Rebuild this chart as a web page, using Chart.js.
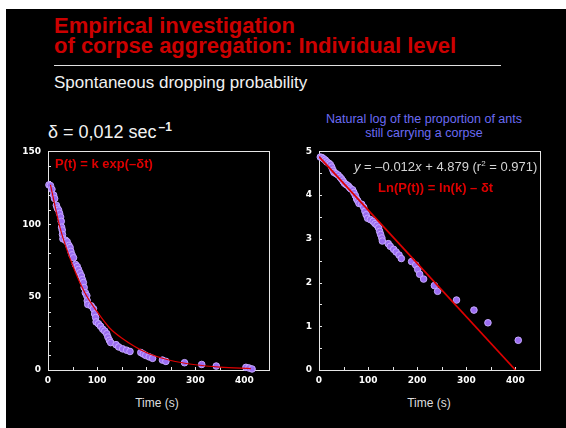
<!DOCTYPE html>
<html>
<head>
<meta charset="utf-8">
<script src="https://cdn.jsdelivr.net/npm/chart.js@4/dist/chart.umd.min.js"></script>
<style>
  html, body { margin: 0; padding: 0; }
  body { width: 566px; height: 428px; background: #fff; position: relative; overflow: hidden; font-family: "Liberation Sans", Arial, sans-serif; }
  #panel { position: absolute; left: 6px; top: 9px; right: 0; bottom: 0; background: #000; }
  .txt { position: absolute; white-space: nowrap; }
  #title { left: 54px; top: 16px; font-size: 22px; line-height: 20px; font-weight: bold; color: #cc0000; }
  #rule { position: absolute; left: 54px; top: 65px; width: 447px; height: 1px; background: #e0e0e0; }
  #subtitle { left: 54px; top: 74px; font-size: 17px; line-height: 17px; color: #f2f2f2; }
  #delta { left: 48px; top: 118px; font-size: 18px; line-height: 18px; color: #f2f2f2; }
  #delta sup { font-size: 12px; font-weight: bold; vertical-align: 7px; margin-left: 2px; }
  #logTitle { left: 324px; top: 112px; width: 200px; text-align: center; font-size: 12.5px; line-height: 14px; color: #6b6bf4; }
  #eqLeft { left: 55px; top: 157px; font-size: 13px; line-height: 13px; font-weight: bold; color: #dd0000; }
  #eqFit { left: 354px; top: 157px; font-size: 13px; line-height: 13px; color: #d4d4d4; }
  #eqFit sup { font-size: 8px; vertical-align: 5px; }
  #eqLn { left: 378px; top: 181px; font-size: 13px; line-height: 13px; font-weight: bold; color: #dd0000; }
  .xlab { top: 397px; width: 80px; text-align: center; font-size: 12px; line-height: 12px; color: #dedede; }
  canvas { position: absolute; }
</style>
</head>
<body>
<div id="panel"></div>
<div class="txt" id="title">Empirical investigation<br>of corpse aggregation: Individual level</div>
<div id="rule"></div>
<div class="txt" id="subtitle">Spontaneous dropping probability</div>
<div class="txt" id="delta">δ = 0,012 sec<sup>–1</sup></div>
<div class="txt" id="logTitle">Natural log of the proportion of ants<br>still carrying a corpse</div>

<canvas id="leftChart" width="270" height="250" style="left:10px; top:139px;"></canvas>
<canvas id="rightChart" width="270" height="250" style="left:285px; top:139px;"></canvas>

<div class="txt" id="eqLeft">P(t) = k exp(–δt)</div>
<div class="txt" id="eqFit"><i>y</i> = –0.012<i>x</i> + 4.879 (r<sup>2</sup> = 0.971)</div>
<div class="txt" id="eqLn">Ln(P(t)) = ln(k) – δt</div>
<div class="txt xlab" style="left:117px;">Time (s)</div>
<div class="txt xlab" style="left:389px;">Time (s)</div>

<script>
// ants still carrying a corpse vs time (s)
const carryTimes = [2, 5, 8, 11.5, 13.5, 17, 19, 21.6, 23.6, 25.7, 27, 27.7, 29, 29.5, 30.4, 35.8, 39, 42.6, 45, 46.6,
  49, 52, 56, 59.5, 62, 65, 68, 70, 72, 73.6, 76, 79, 80, 81, 88, 92.6, 95, 97, 98, 102.7,
  107, 111.5, 115.5, 119.6, 122, 125, 127.7, 138.5, 144, 152, 160, 167, 189, 194, 199, 206, 213, 233, 240, 278,
  313, 342.6, 403, 409, 415.5];
const carryCounts = [127, 126.5, 124, 120, 117.6, 113, 111, 109.7, 107.5, 105, 102, 98, 96, 93, 90, 89, 88, 85.5, 84, 81.4,
  79, 77, 72.4, 71, 69, 66.7, 64.5, 62, 60, 56.6, 53, 51, 47.5, 45, 44, 42, 38.5, 36, 33, 31.7,
  30, 28, 26.7, 24.9, 22.6, 20.4, 18.8, 17.4, 15.8, 14.5, 13.6, 12.7, 12, 11, 10, 9, 8, 6.8, 5.9, 5,
  3.8, 2.7, 1.8, 1.4, 0.7];

// exponential fit
const fitTimes = [5, 25, 50, 75, 100, 125, 150, 200, 250, 300, 350, 413];
const fitCounts = [127, 97, 72, 53, 40, 29, 22, 12, 6.5, 3.6, 2, 0.9];

// natural log panel
const logTimes = [2.7, 6, 9.5, 13, 16, 20, 23, 26, 28.5, 30.5, 35, 39, 43, 46, 49, 52, 55.6, 59.7, 62.4, 65,
  68.5, 71, 74, 76.7, 79, 81.4, 87, 91, 93.6, 96, 99, 104.5, 110, 114, 118, 121.4, 123.5, 125.5, 128, 129,
  141, 145, 152, 157, 163, 167.6, 188.6, 197, 201, 205, 213, 235, 241.5, 280, 315.5, 344, 405.7];
const logValues = [4.87, 4.86, 4.83, 4.80, 4.76, 4.73, 4.70, 4.64, 4.57, 4.52, 4.49, 4.46, 4.41, 4.37, 4.32, 4.27, 4.24, 4.21, 4.17, 4.14,
  4.12, 4.06, 3.99, 3.91, 3.87, 3.81, 3.79, 3.72, 3.63, 3.55, 3.47, 3.44, 3.40, 3.35, 3.31, 3.25, 3.17, 3.10, 3.02, 2.95,
  2.89, 2.83, 2.76, 2.70, 2.63, 2.55, 2.48, 2.40, 2.30, 2.19, 2.08, 1.93, 1.80, 1.60, 1.37, 1.08, 0.68];

// regression line end points
const lineTimes = [0, 400];
const lineValues = [4.88, 0];

// labelled ticks
const timeTicks = [0, 100, 200, 300, 400];
const countTicks = [0, 50, 100, 150];
const logTicks = [0, 1, 2, 3, 4, 5];

const pts = (xs, ys) => xs.map((x, i) => ({ x: x, y: ys[i] }));

// white box round the plot, small ticks drawn inside
const frameTicks = {
  id: 'frameTicks',
  beforeDatasetsDraw(chart, args, opts) {
    const { ctx, chartArea: a, scales: { x, y } } = chart;
    ctx.save();
    ctx.strokeStyle = '#e6e6e6';
    ctx.lineWidth = 1;
    ctx.strokeRect(Math.round(a.left) + 0.5, Math.round(a.top) + 0.5,
      Math.round(a.right - a.left), Math.round(a.bottom - a.top));
    ctx.beginPath();
    for (let v = x.min; v <= x.max; v += opts.xStep) {
      const px = Math.round(x.getPixelForValue(v)) + 0.5;
      ctx.moveTo(px, a.bottom);
      ctx.lineTo(px, a.bottom - 3);
    }
    for (let v = y.min; v <= y.max + 1e-9; v += opts.yStep) {
      const py = Math.round(y.getPixelForValue(v)) + 0.5;
      ctx.moveTo(a.left, py);
      ctx.lineTo(a.left + 3, py);
    }
    ctx.stroke();
    ctx.restore();
  }
};

const tickFont = { family: 'DejaVu Sans', size: 9, weight: 'bold' };

function axes(yMax, yStep, yLabels, yWidth) {
  return {
    x: {
      type: 'linear', min: 0, max: 450,
      afterFit: s => { s.height = 19; },
      grid: { display: false, drawTicks: false },
      border: { display: false },
      ticks: {
        stepSize: 50, autoSkip: false, maxRotation: 0, padding: 5,
        color: '#ffffff', font: tickFont,
        callback: v => timeTicks.includes(v) ? String(v) : ''
      }
    },
    y: {
      type: 'linear', min: 0, max: yMax,
      afterFit: s => { s.width = yWidth; },
      grid: { display: false, drawTicks: false },
      border: { display: false },
      ticks: {
        stepSize: yStep, autoSkip: false, padding: 7,
        color: '#ffffff', font: tickFont,
        callback: v => yLabels.includes(v) ? String(v) : ''
      }
    }
  };
}

const dotStyle = {
  pointRadius: 3.3,
  pointBackgroundColor: '#9b6df2',
  pointBorderColor: '#c6a8ff',
  pointBorderWidth: 1,
  showLine: false,
  clip: false
};

// first dataset is painted last, so the red fit sits over the dots
new Chart(document.getElementById('leftChart'), {
  type: 'scatter',
  data: {
    datasets: [
      {
        label: 'P(t) = k exp(-δt)',
        data: pts(fitTimes, fitCounts),
        showLine: true,
        borderColor: '#dd0000',
        borderWidth: 1.2,
        pointRadius: 0,
        cubicInterpolationMode: 'monotone'
      },
      Object.assign({ label: 'Ants carrying', data: pts(carryTimes, carryCounts) }, dotStyle)
    ]
  },
  options: {
    responsive: false,
    animation: false,
    layout: { padding: { top: 10, right: 11, left: 0, bottom: 0 } },
    plugins: { legend: { display: false }, tooltip: { enabled: false }, frameTicks: { xStep: 50, yStep: 10 } },
    scales: axes(150, 10, countTicks, 38)
  },
  plugins: [frameTicks]
});

new Chart(document.getElementById('rightChart'), {
  type: 'scatter',
  data: {
    datasets: [
      {
        label: 'fit',
        data: pts(lineTimes, lineValues),
        showLine: true,
        borderColor: '#dd0000',
        borderWidth: 1.7,
        pointRadius: 0
      },
      Object.assign({ label: 'ln proportion', data: pts(logTimes, logValues) }, dotStyle)
    ]
  },
  options: {
    responsive: false,
    animation: false,
    layout: { padding: { top: 10, right: 15, left: 0, bottom: 0 } },
    plugins: { legend: { display: false }, tooltip: { enabled: false }, frameTicks: { xStep: 50, yStep: 0.5 } },
    scales: axes(5, 0.5, logTicks, 34)
  },
  plugins: [frameTicks]
});
</script>
</body>
</html>
